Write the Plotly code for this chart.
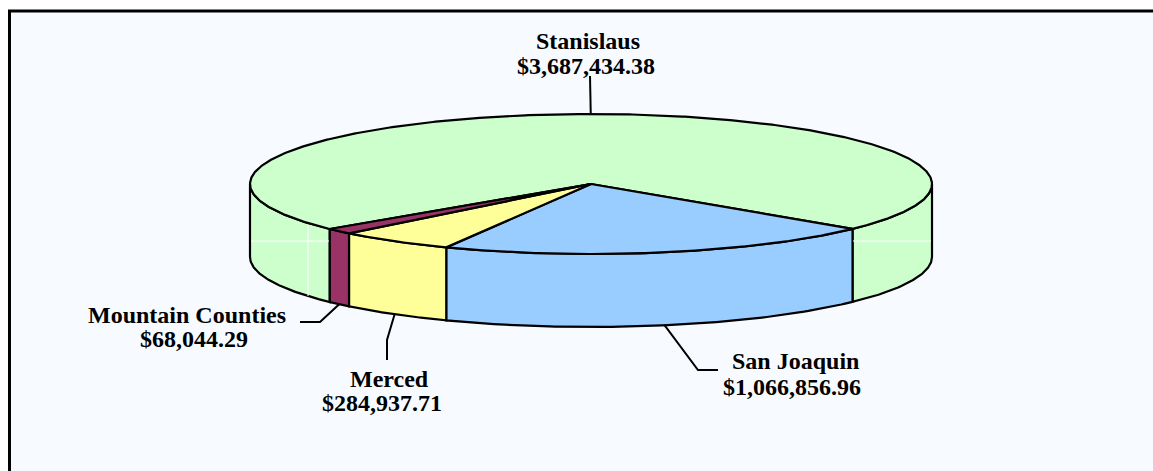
import numpy as np
import plotly.graph_objects as go

# data
counties = ["Stanislaus", "San Joaquin", "Merced", "Mountain Counties"]
amounts = [3687434.38, 1066856.96, 284937.71, 68044.29]
amount_labels = ["$3,687,434.38", "$1,066,856.96", "$284,937.71", "$68,044.29"]
colors = ["#CCFFCC", "#99CCFF", "#FFFF99", "#993366"]

W, H = 1153, 471
cx, cy = 591, 184      # centre of the top ellipse (px)
rx, ry = 341, 70       # ellipse radii
depth = 73             # height of the pie wall
start_deg = 140        # where the first slice starts (clockwise on screen)
font = dict(family="Liberation Serif, Times New Roman, serif", size=24, color="black")


def ell(t_deg, drop=0.0):
    t = np.radians(t_deg)
    return cx + rx * np.cos(t), cy + drop + ry * np.sin(t)


fracs = np.array(amounts) / sum(amounts)
edges = start_deg + np.concatenate([[0], np.cumsum(fracs)]) * 360

fig = go.Figure()

# side walls (front half only: 0..180 deg, repeated every 360)
for i, name in enumerate(counties):
    a0, a1 = edges[i], edges[i + 1]
    for k in range(-1, 3):
        s, e = max(a0, 360 * k), min(a1, 360 * k + 180)
        if e <= s:
            continue
        t = np.linspace(s, e, 80)
        xt, yt = ell(t)
        xb, yb = ell(t[::-1], depth)
        fig.add_trace(go.Scatter(
            x=np.concatenate([xt, xb, xt[:1]]), y=np.concatenate([yt, yb, yt[:1]]),
            mode="lines", fill="toself", fillcolor=colors[i],
            line=dict(color="black", width=2.2), hoverinfo="skip", showlegend=False))

# white grid artefacts showing through the green wall
for x0, x1 in [(251, 329), (853, 931)]:
    fig.add_trace(go.Scatter(x=[x0, x1], y=[241, 241], mode="lines",
                             line=dict(color="white", width=1), hoverinfo="skip", showlegend=False))
fig.add_trace(go.Scatter(x=[308, 308], y=[226, 296], mode="lines",
                         line=dict(color="white", width=1), hoverinfo="skip", showlegend=False))

# top faces
for i, name in enumerate(counties):
    t = np.linspace(edges[i], edges[i + 1], max(int((edges[i + 1] - edges[i]) * 2), 6))
    xa, ya = ell(t)
    fig.add_trace(go.Scatter(
        x=np.concatenate([[cx], xa, [cx]]), y=np.concatenate([[cy], ya, [cy]]),
        mode="lines", fill="toself", fillcolor=colors[i],
        line=dict(color="black", width=2.2), hoverinfo="skip", showlegend=False))

# labels with leader lines
label_pos = {
    "Stanislaus": dict(xn=588, xv=586, yn=41, yv=66, path=[(590, 76)]),
    "San Joaquin": dict(xn=795, xv=792, yn=361, yv=387, path=[(698, 370), (718, 370)]),
    "Merced": dict(xn=389, xv=382, yn=379, yv=403, path=[(387, 340), (387, 360)]),
    "Mountain Counties": dict(xn=187, xv=194, yn=315, yv=339, path=[(320, 322), (300, 322)]),
}
for i, name in enumerate(counties):
    mid = (edges[i] + edges[i + 1]) / 2
    on_front = np.sin(np.radians(mid)) > 0
    sx, sy = ell(mid, depth if on_front else 0)
    p = label_pos[name]
    px = [sx] + [q[0] for q in p["path"]]
    py = [sy] + [q[1] for q in p["path"]]
    fig.add_trace(go.Scatter(x=px, y=py, mode="lines", line=dict(color="black", width=2),
                             hoverinfo="skip", showlegend=False))
    fig.add_annotation(x=p["xn"], y=p["yn"], text="<b>%s</b>" % name, showarrow=False,
                       xanchor="center", yanchor="middle", font=font)
    fig.add_annotation(x=p["xv"], y=p["yv"], text="<b>%s</b>" % amount_labels[i], showarrow=False,
                       xanchor="center", yanchor="middle", font=font)

# chart area box (only its top and left borders are on screen)
fig.add_shape(type="rect", x0=9.5, y0=11, x1=W, y1=H, layer="below",
              fillcolor="#F7FBFF", line=dict(width=0))
fig.add_shape(type="line", x0=8, y0=11, x1=W, y1=11, layer="below",
              line=dict(color="black", width=3))
fig.add_shape(type="line", x0=9.5, y0=10, x1=9.5, y1=H, layer="below",
              line=dict(color="black", width=3))

fig.update_layout(
    width=W, height=H,
    margin=dict(l=0, r=0, t=0, b=0),
    paper_bgcolor="white", plot_bgcolor="white",
    xaxis=dict(range=[0, W], visible=False, fixedrange=True),
    yaxis=dict(range=[H, 0], visible=False, fixedrange=True),
)

# drop the default page margin so the figure fills the window
fig.write_html("out.html", config={"displayModeBar": False},
               post_script="document.body.style.margin='0';")
